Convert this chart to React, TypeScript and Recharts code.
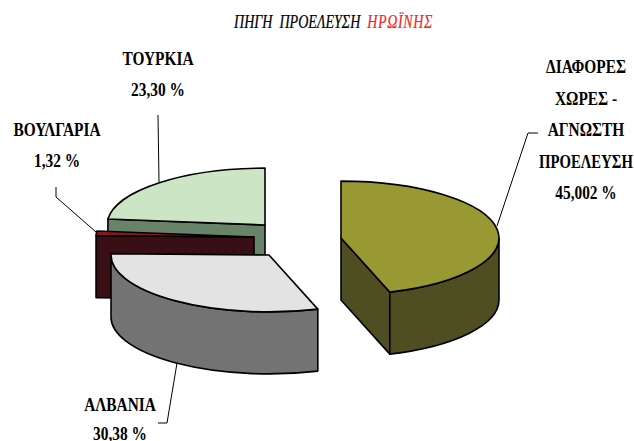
import React from 'react';
import { PieChart, Pie } from 'recharts';

// listed back to front, the pie runs counter-clockwise from 12 o'clock
const countries = ['ΤΟΥΡΚΙΑ', 'ΒΟΥΛΓΑΡΙΑ', 'ΑΛΒΑΝΙΑ', 'ΔΙΑΦΟΡΕΣ ΧΩΡΕΣ - ΑΓΝΩΣΤΗ ΠΡΟΕΛΕΥΣΗ'];
const shares = [23.3, 1.32, 30.38, 45.002];
const shareLabels = ['23,30 %', '1,32 %', '30,38 %', '45,002 %'];

const topColors = ['#cce5c4', '#8a161c', '#e3e3e3', '#999933'];
const wallColors = ['#678468', '#3a0f14', '#737373', '#4e4e22'];

// how far each slice is pulled away from the pie centre
const explode = [
  { dx: -15, dy: -20 },
  { dx: -26, dy: -8 },
  { dx: -11, dy: 10 },
  { dx: 61, dy: -7 },
];

const labelLines = [
  ['ΤΟΥΡΚΙΑ', '23,30 %'],
  ['ΒΟΥΛΓΑΡΙΑ', '1,32 %'],
  ['ΑΛΒΑΝΙΑ', '30,38 %'],
  ['ΔΙΑΦΟΡΕΣ', 'ΧΩΡΕΣ -', 'ΑΓΝΩΣΤΗ', 'ΠΡΟΕΛΕΥΣΗ', '45,002 %'],
];
const labelBoxes = [
  { x: 158, y: 65, gap: 31 },
  { x: 57, y: 136, gap: 31 },
  { x: 120, y: 411, gap: 29 },
  { x: 586, y: 73, gap: 31.5 },
];
const leaders = [
  '158,115 159,182',
  '56,187 56,197 96,232',
  '177,363 167,423 158,423',
  '497,226 528,133 538,133',
];

const chartData = countries.map((name, i) => ({ name, value: shares[i], share: shareLabels[i] }));

const SQUASH = 0.36;
const DEPTH = 62;
const RAD = Math.PI / 180;

const Slice3D = (props: any) => {
  const { cx, cy, outerRadius: r, startAngle, endAngle, name } = props;
  const i = countries.indexOf(name);
  const ax = cx + explode[i].dx;
  const ay = cy + explode[i].dy;
  const ry = r * SQUASH;
  const px = (a: number) => ax + r * Math.cos(a * RAD);
  const py = (a: number) => ay - ry * Math.sin(a * RAD);

  const arc = (from: number, to: number, sweep: number, drop = 0) =>
    `A${r} ${ry} 0 ${Math.abs(to - from) > 180 ? 1 : 0} ${sweep} ${px(to)} ${py(to) + drop}`;

  const face = (a: number) =>
    `M${ax} ${ay}L${px(a)} ${py(a)}L${px(a)} ${py(a) + DEPTH}L${ax} ${ay + DEPTH}Z`;

  const wallFrom = Math.max(startAngle, 180);
  const wallTo = Math.min(endAngle, 360);
  const stroke = { stroke: '#000', strokeWidth: 1.6, strokeLinejoin: 'round' as const };

  return (
    <g>
      {Math.cos(startAngle * RAD) > 1e-6 && <path d={face(startAngle)} fill={wallColors[i]} {...stroke} />}
      {Math.cos(endAngle * RAD) < -1e-6 && <path d={face(endAngle)} fill={wallColors[i]} {...stroke} />}
      {wallTo > wallFrom && (
        <path
          d={`M${px(wallFrom)} ${py(wallFrom)}${arc(wallFrom, wallTo, 0)}L${px(wallTo)} ${py(wallTo) + DEPTH}${arc(wallTo, wallFrom, 1, DEPTH)}Z`}
          fill={wallColors[i]}
          {...stroke}
        />
      )}
      <path
        d={`M${ax} ${ay}L${px(startAngle)} ${py(startAngle)}${arc(startAngle, endAngle, 0)}Z`}
        fill={topColors[i]}
        {...stroke}
      />
    </g>
  );
};

const SliceLabel = (props: any) => {
  const i = countries.indexOf(props.name);
  const box = labelBoxes[i];
  return (
    <g>
      <polyline points={leaders[i]} fill="none" stroke="#000" strokeWidth={1} />
      {labelLines[i].map((line, n) => (
        <text
          key={n}
          // the long word has to stay inside the right edge
          transform={`translate(${box.x} ${box.y + n * box.gap}) scale(${line === 'ΠΡΟΕΛΕΥΣΗ' ? 0.775 : 0.81} 1)`}
          textAnchor="middle"
          fontFamily="Liberation Serif"
          fontWeight="bold"
          fontSize={19}
          fill="#000"
        >
          {line}
        </text>
      ))}
    </g>
  );
};

export default function App() {
  return (
    <div style={{ position: 'absolute', left: 0, top: 0, width: 634, height: 441, background: '#fff' }}>
      <PieChart width={634} height={441} margin={{ top: 0, right: 0, bottom: 0, left: 0 }}>
        <text transform="translate(234 28) scale(0.74 1)" fontFamily="Liberation Serif" fontStyle="italic" fontSize={19} fill="#000" stroke="#000" strokeWidth={0.25}>
          ΠΗΓΗ&#160;&#160;ΠΡΟΕΛΕΥΣΗ&#160;&#160;<tspan fill="#ed2a2f" stroke="#ed2a2f" letterSpacing={0.8}>ΗΡΩΪΝΗΣ</tspan>
        </text>
        <Pie
          data={chartData}
          dataKey="value"
          nameKey="name"
          cx={280}
          cy={245}
          innerRadius={0}
          outerRadius={158}
          startAngle={90}
          endAngle={450}
          stroke="none"
          shape={Slice3D}
          label={SliceLabel}
          labelLine={false}
          isAnimationActive={false}
        />
      </PieChart>
    </div>
  );
}
